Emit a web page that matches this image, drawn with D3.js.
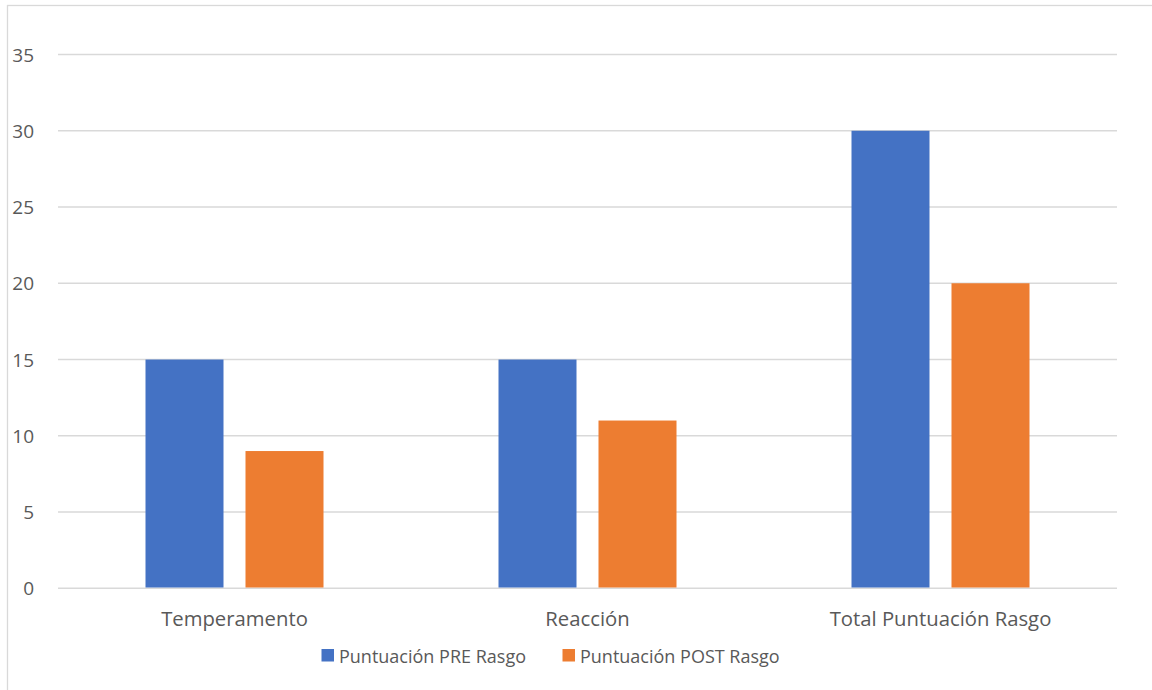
<!DOCTYPE html>
<html><head><meta charset="utf-8">
<script src="https://cdn.jsdelivr.net/npm/d3@7"></script>
<style>html,body{margin:0;padding:0;background:#fff;}svg{display:block;}</style>
</head><body>
<svg id="chart" width="1152" height="690"></svg>
<script>
const categories = ["Temperamento", "Reacción", "Total Puntuación Rasgo"];
const seriesNames = ["Puntuación PRE Rasgo", "Puntuación POST Rasgo"];
const preValues = [15, 15, 30];
const postValues = [9, 11, 20];
const yTicks = [0, 5, 10, 15, 20, 25, 30, 35];
const colors = ["#4472C4", "#ED7D31"];

(function () {
const svg = d3.select("#chart");
const font = "'Open Sans', 'Noto Sans', sans-serif";
const textColor = "#595959";

// chart border
svg.append("rect").attr("x", 7.5).attr("y", 5.5).attr("width", 1160).attr("height", 700)
  .attr("fill", "none").attr("stroke", "#D9D9D9").attr("stroke-width", 1.3);

const pLeft = 58, pRight = 1117, pTop = 54.5, pBottom = 588.3;
const y = d3.scaleLinear().domain([0, 35]).range([pBottom, pTop]);
const x0 = d3.scaleBand().domain(categories).range([pLeft, pRight]).padding(0);
const groupW = 178;
const x1 = d3.scaleBand().domain(seriesNames)
  .range([x0.bandwidth()/2 - groupW/2, x0.bandwidth()/2 + groupW/2]).paddingInner(0.22);

// gridlines
svg.append("g").selectAll("line").data(yTicks).join("line")
  .attr("x1", pLeft).attr("x2", pRight)
  .attr("y1", d => y(d)).attr("y2", d => y(d))
  .attr("stroke", "#D9D9D9").attr("stroke-width", 1.5);

// y tick labels
svg.append("g").selectAll("text").data(yTicks).join("text")
  .attr("x", 34).attr("y", d => y(d) + 7)
  .attr("text-anchor", "end").attr("font-family", font).attr("font-size", 19)
  .attr("fill", textColor).text(d => d);

// bars
const data = categories.map((c, i) => ({cat: c, vals: [preValues[i], postValues[i]]}));
const groups = svg.append("g").selectAll("g").data(data).join("g")
  .attr("transform", d => `translate(${x0(d.cat)},0)`);
groups.selectAll("rect").data(d => d.vals.map((v, j) => ({s: seriesNames[j], v, j})))
  .join("rect")
  .attr("x", d => x1(d.s)).attr("width", x1.bandwidth())
  .attr("y", d => y(d.v)).attr("height", d => y(0) - y(d.v) - 0.8)
  .attr("fill", d => colors[d.j]);

// category labels
svg.append("g").selectAll("text").data(categories).join("text")
  .attr("x", d => x0(d) + x0.bandwidth()/2).attr("y", 626)
  .attr("text-anchor", "middle").attr("font-family", font).attr("font-size", 20.3)
  .attr("fill", textColor).text(d => d);

// legend
const legendX = [321.5, 562.5];
const lg = svg.append("g").selectAll("g").data(seriesNames).join("g")
  .attr("transform", (d, i) => `translate(${legendX[i]},649)`);
lg.append("rect").attr("width", 12.5).attr("height", 12.5).attr("fill", (d, i) => colors[i]);
lg.append("text").attr("x", 17.5).attr("y", 14)
  .attr("font-family", font).attr("font-size", 18).attr("fill", textColor).text(d => d);
})();
</script>
</body></html>
